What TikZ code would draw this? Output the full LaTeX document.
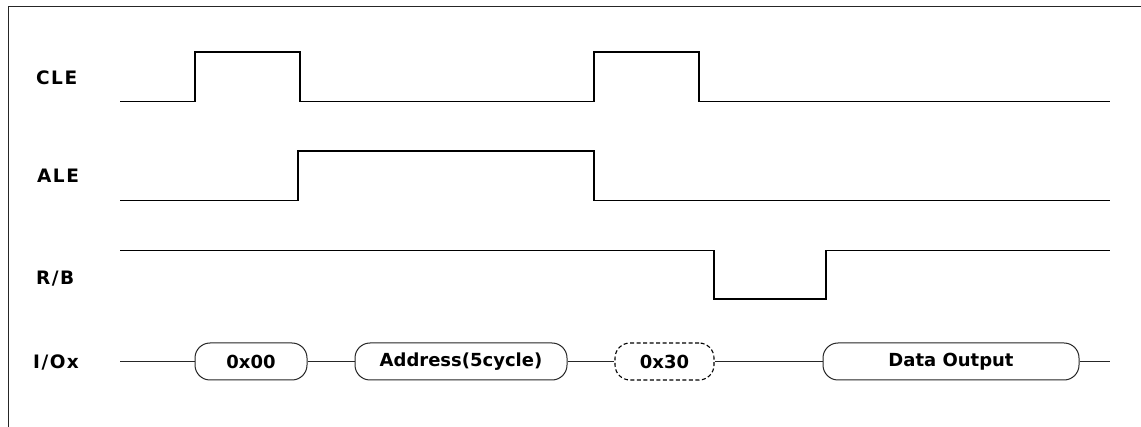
\documentclass[tikz,border=0pt]{standalone}
\usepackage{fontspec}
\setmainfont{DejaVu Sans}
\begin{document}
\begin{tikzpicture}[x=1pt,y=-1pt,
  lbl/.style={anchor=base west,inner sep=0pt,font=\fontsize{18.5}{20}\selectfont\bfseries\addfontfeature{LetterSpace=8}},
  sig/.style={line width=1.9pt,black,line join=miter},
  bus/.style={line width=1.4pt,black!85},
  pill/.style={draw=black!85,line width=1pt,rounded corners=15pt,minimum height=37pt,inner sep=0pt,fill=white,font=\fontsize{18}{20}\selectfont\bfseries},
  dpill/.style={pill,draw=black,line width=1.1pt,dash pattern=on 4pt off 2.5pt},
  frame/.style={line width=1pt,black!85}]
\useasboundingbox (0,0) rectangle (1141,427);
\draw[frame] (8,427) -- (8,7) -- (1141,7);
% labels
\node[lbl] (lcle) at (36,85) {CLE};
\node[lbl] (lale) at (37,183) {ALE};
\node[lbl] (lrb) at (36,284.5) {R/B};
\node[lbl] (lio) at (33,369) {I/Ox};
% CLE
\draw[sig] (120,101.5) -- (195,101.5) -- (195,52) -- (300,52) -- (300,101.5) -- (594,101.5) -- (594,52) -- (699,52) -- (699,101.5) -- (1110,101.5);
% ALE
\draw[sig] (120,200.5) -- (298,200.5) -- (298,151) -- (594,151) -- (594,200.5) -- (1110,200.5);
% R/B
\draw[sig] (120,250.5) -- (714,250.5) -- (714,299) -- (826,299) -- (826,250.5) -- (1110,250.5);
% I/Ox
\coordinate (iostart) at (120,361.5);
\coordinate (ioend) at (1110,361.5);
\node[pill,minimum width=112pt] (p1) at (251,361.5) {0x00};
\node[pill,minimum width=212pt] (p2) at (461,361.5) {Address(5cycle)};
\node[dpill,minimum width=99pt] (p3) at (664.5,361.5) {0x30};
\node[pill,minimum width=256pt] (p4) at (951,361.5) {Data Output};
\draw[bus] (iostart) -- (p1.west);
\draw[bus] (p1.east) -- (p2.west);
\draw[bus] (p2.east) -- (p3.west);
\draw[bus] (p3.east) -- (p4.west);
\draw[bus] (p4.east) -- (ioend);
\end{tikzpicture}
\end{document}
